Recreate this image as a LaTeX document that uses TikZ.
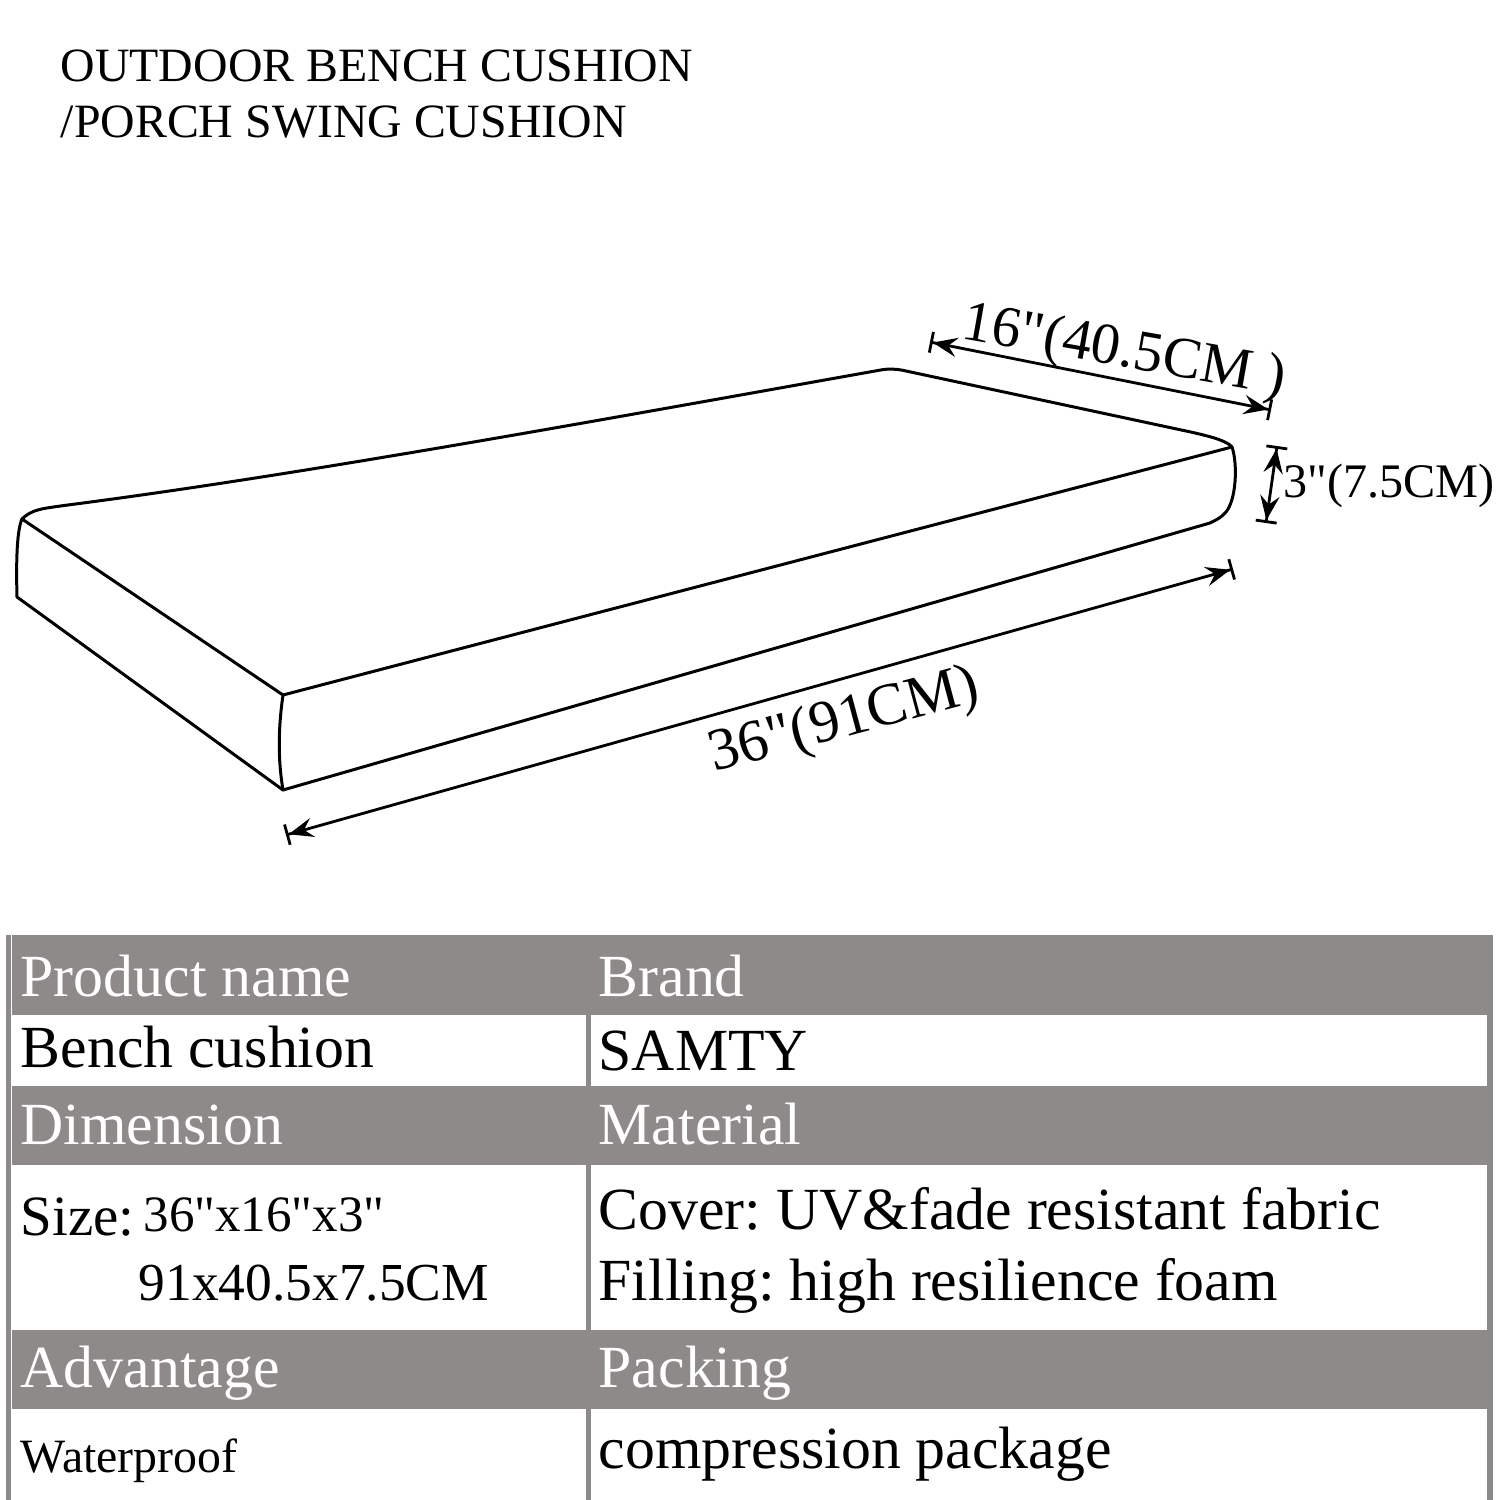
\documentclass[tikz,border=0pt]{standalone}
\usepackage{fontspec}
\setmainfont{Liberation Serif}[Ligatures=TeXOff]
\usepackage{tikz}
\usetikzlibrary{arrows.meta}
\definecolor{tablegray}{RGB}{143,138,138}
\frenchspacing
\tikzset{
  edge/.style={line width=0.85pt, line join=round, line cap=round},
  dimline/.style={line width=0.8pt,
    {Bar[width=6pt]Stealth[length=7pt,width=5.5pt,inset=2.5pt]}-{Stealth[length=7pt,width=5.5pt,inset=2.5pt]Bar[width=6pt]}},
  txt/.style={anchor=base west, inner sep=0pt},
  headtext/.style={txt, text=white, font=\fontsize{17}{20}\selectfont},
  celltext/.style={txt, font=\fontsize{17}{20}\selectfont},
}

\begin{document}
\begin{tikzpicture}[x=0.01cm, y=-0.01cm]
\useasboundingbox (0,0) rectangle (1500,1500);

\node[txt, font=\fontsize{13.6}{16}\selectfont] (title1) at (60,82) {OUTDOOR BENCH CUSHION};
\node[txt, font=\fontsize{13.6}{16}\selectfont] (title2) at (60,138) {/PORCH SWING CUSHION};

% cushion
\coordinate (tl) at (22,519);
\coordinate (tb) at (892,368);
\coordinate (tr) at (1232,447);
\coordinate (tf) at (283,695);
\coordinate (bl) at (17,597);
\coordinate (bf) at (283,790);
\draw[edge, rounded corners=1mm] (tl) .. controls (30,511) and (40,509) .. (60,506)
  .. controls (300,475) and (600,420) .. (tb) -- (1200,434)
  .. controls (1222,440) and (1230,444) .. (tr);
\draw[edge] (tr) .. controls (1238,465) and (1236,500) .. (1226,512)
  .. controls (1220,518) .. (1210,523) -- (bf) -- (bl)
  .. controls (16,560) and (17,530) .. (tl) -- (tf) -- (tr);
\draw[edge] (tf) .. controls (278,730) and (278,760) .. (bf);

% dimensions
\coordinate (w1) at (930,342);
\coordinate (w2) at (1271,410);
\coordinate (h1) at (1277,446);
\coordinate (h2) at (1266,523);
\coordinate (l1) at (286,835);
\coordinate (l2) at (1233,569);
\draw[dimline] (w1) -- (w2);
\draw[dimline] (h1) -- (h2);
\draw[dimline] (l1) -- (l2);
\node[txt, rotate=-10, font=\fontsize{16.5}{20}\selectfont] (width) at (960,338) {16"(40.5CM )};
\node[txt, font=\fontsize{13.7}{16}\selectfont] (height) at (1283,497) {3"(7.5CM)};
\node[txt, rotate=15, font=\fontsize{17}{20}\selectfont] (length) at (714,772) {36"(91CM)};

% table
\fill[tablegray] (6,935) rectangle (11,1500);
\fill[tablegray] (12,935) rectangle (1493,1500);
\foreach \ya/\yb in {1015/1086, 1165/1330, 1409/1500} {
  \fill[white] (12,\ya) rectangle (586,\yb);
  \fill[white] (591,\ya) rectangle (1487,\yb);
}
\node[headtext] (hname) at (20,996) {Product name};
\node[headtext] (hbrand) at (598,996) {Brand};
\node[celltext] (vname) at (20,1067) {Bench cushion};
\node[celltext] (vbrand) at (598,1070) {SAMTY};
\node[headtext] (hdim) at (20,1144) {Dimension};
\node[headtext] (hmat) at (598,1144) {Material};
\node[txt, font=\fontsize{16.2}{20}\selectfont] (size) at (20,1235) {Size:};
\node[txt, font=\fontsize{14.5}{18}\selectfont] (sizein) at (143,1231) {36"x16"x3"};
\node[txt, font=\fontsize{15.2}{18}\selectfont] (sizecm) at (138,1300) {91x40.5x7.5CM};
\node[celltext] (cover) at (598,1229) {Cover: UV\&fade resistant fabric};
\node[celltext] (fill) at (598,1300) {Filling: high resilience foam};
\node[headtext] (hadv) at (20,1387) {Advantage};
\node[headtext] (hpack) at (598,1387) {Packing};
\node[txt, font=\fontsize{13.6}{16}\selectfont] (vadv) at (20,1472) {Waterproof};
\node[celltext] (vpack) at (598,1468) {compression package};
\end{tikzpicture}
\end{document}
